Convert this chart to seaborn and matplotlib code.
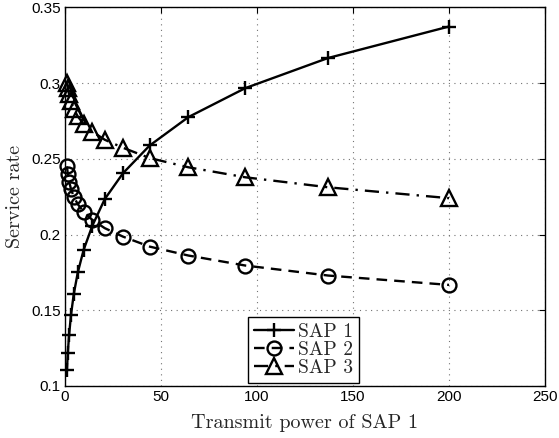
import matplotlib
matplotlib.use("Agg")
import matplotlib.pyplot as plt
import seaborn as sns
import pandas as pd

# Transmit power of SAP 1 (geometrically spaced sweep)
power = [1.0, 1.46, 2.14, 3.12, 4.55, 6.65, 9.71, 14.2, 20.7, 30.2, 44.1, 64.3, 93.9, 137.0, 200.0]

# Service rate of each SAP
sap1 = [0.1105, 0.1220, 0.1339, 0.1469, 0.1606, 0.1749, 0.1899, 0.2057, 0.2234,
        0.2405, 0.2588, 0.2776, 0.2967, 0.3166, 0.3374]
sap2 = [0.2450, 0.2400, 0.2350, 0.2300, 0.2250, 0.2200, 0.2150, 0.2097, 0.2042,
        0.1986, 0.1920, 0.1861, 0.1795, 0.1729, 0.1667]
sap3 = [0.3000, 0.2965, 0.2925, 0.2880, 0.2830, 0.2780, 0.2730, 0.2680, 0.2626,
        0.2573, 0.2505, 0.2444, 0.2378, 0.2312, 0.2240]

series_names = ["SAP 1", "SAP 2", "SAP 3"]
x_ticks = [0, 50, 100, 150, 200, 250]
y_ticks = [0.1, 0.15, 0.2, 0.25, 0.3, 0.35]
y_tick_labels = ["0.1", "0.15", "0.2", "0.25", "0.3", "0.35"]

sns.set_style("white")
plt.rcParams["font.family"] = ["Liberation Sans", "DejaVu Sans"]

fig = plt.figure(figsize=(5.59, 4.38), dpi=100)
ax = fig.add_axes([0.1163, 0.119, 0.8587, 0.864])

styles = [
    dict(marker="+", linestyle="-", markersize=10, mew=1.7),
    dict(marker="o", linestyle=(0, (4.5, 3)), markersize=10, mew=1.7, mfc="none"),
    dict(marker="^", linestyle=(0, (6, 3, 1, 3)), markersize=11, mew=1.7, mfc="none"),
]

for name, vals, st in zip(series_names, [sap1, sap2, sap3], styles):
    df = pd.DataFrame({"power": power, "rate": vals})
    sns.lineplot(data=df, x="power", y="rate", ax=ax, color="black", lw=1.7,
                 label=name, mec="black", clip_on=False, zorder=3, **st)

ax.set_xlim(0, 250)
ax.set_ylim(0.1, 0.35)
ax.set_xticks(x_ticks)
ax.set_xticklabels([str(t) for t in x_ticks])
ax.set_yticks(y_ticks)
ax.set_yticklabels(y_tick_labels)

ax.grid(True, color="0.45", linestyle=(0, (1, 4)), linewidth=0.8)
for s in ax.spines.values():
    s.set_visible(True)
    s.set_color("black")
    s.set_linewidth(1.0)
    s.set_zorder(2)

ax.tick_params(direction="in", length=4, width=0.8, top=True, right=True,
               labelsize=11, colors="black", pad=3)

ax.set_xlabel("Transmit power of SAP 1", fontfamily="cmr10", fontsize=14.5, labelpad=7)
ax.set_ylabel("Service rate", fontfamily="cmr10", fontsize=14.5, labelpad=5)

leg = ax.legend(loc="lower left", bbox_to_anchor=(0.381, 0.008),
                prop={"family": "cmr10", "size": 14}, frameon=True, fancybox=False,
                framealpha=1, edgecolor="black", handlelength=2.05, handletextpad=0.25,
                borderpad=0.3, labelspacing=0.0, borderaxespad=0.0)
leg.get_frame().set_linewidth(1.0)
leg.set_zorder(5)

fig.savefig("out.png", dpi=100)
